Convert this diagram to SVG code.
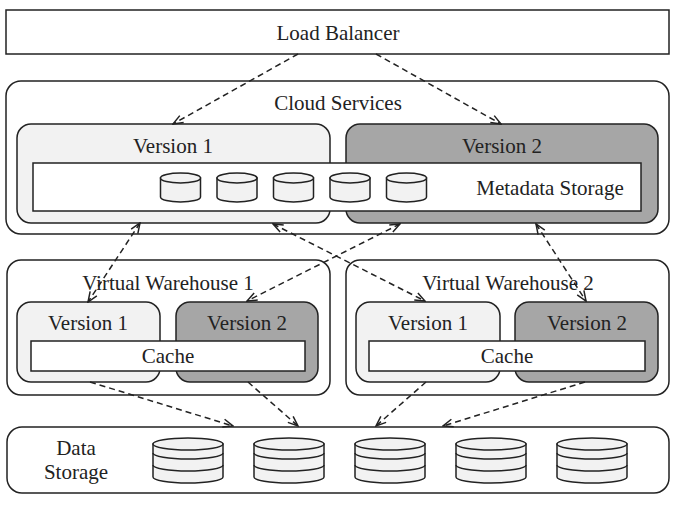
<svg xmlns="http://www.w3.org/2000/svg" width="686" height="510" viewBox="0 0 686 510">
<style>
  .box { fill: #ffffff; stroke: #222222; stroke-width: 1.5; }
  .light { fill: #f2f2f2; stroke: #222222; stroke-width: 1.5; }
  .dark { fill: #a6a6a6; stroke: #222222; stroke-width: 1.5; }
  .cyl { fill: #f2f2f2; stroke: #222222; stroke-width: 1.5; }
  .cline { fill: none; stroke: #222222; stroke-width: 1.5; }
  text { font-family: "Liberation Serif", "Times New Roman", serif; font-size: 21px; fill: #222222; text-anchor: middle; }
  .conn { fill: none; stroke: #222222; stroke-width: 1.5; stroke-dasharray: 6 4; }
</style>
<defs>
  <marker id="arr" viewBox="0 0 12 10" refX="11" refY="5" markerWidth="12" markerHeight="10" markerUnits="userSpaceOnUse" orient="auto-start-reverse">
    <path d="M1,1 L11,5 L1,9" fill="none" stroke="#222222" stroke-width="1.5"/>
  </marker>
  <g id="smallcyl">
    <path class="cyl" d="M-20,0 L-20,19 A20,5 0 0 0 20,19 L20,0 Z"/>
    <ellipse class="cyl" cx="0" cy="0" rx="20" ry="5"/>
  </g>
  <g id="bigcyl">
    <path class="cyl" d="M-35,0 L-35,33 A35,6 0 0 0 35,33 L35,0 Z"/>
    <ellipse class="cyl" cx="0" cy="0" rx="35" ry="6"/>
    <path class="cline" d="M-35,9 A35,6 0 0 0 35,9"/>
    <path class="cline" d="M-35,21 A35,6 0 0 0 35,21"/>
  </g>
</defs>

<g id="load-balancer">
  <rect class="box" x="6" y="10" width="663" height="44"/>
  <text x="338" y="40">Load Balancer</text>
</g>

<g id="cloud-services">
  <rect class="box" x="6" y="81" width="663" height="153" rx="15"/>
  <text x="338" y="110">Cloud Services</text>
</g>
<g id="cloud-version-1">
  <rect class="light" x="17" y="124" width="313" height="99" rx="14"/>
  <text x="173" y="153">Version 1</text>
</g>
<g id="cloud-version-2">
  <rect class="dark" x="346" y="124" width="312" height="99" rx="14"/>
  <text x="502" y="153">Version 2</text>
</g>
<g id="metadata-storage">
  <rect class="box" x="33" y="163" width="608" height="48"/>
  <use href="#smallcyl" x="180.5" y="178"/>
  <use href="#smallcyl" x="237" y="178"/>
  <use href="#smallcyl" x="293.5" y="178"/>
  <use href="#smallcyl" x="350" y="178"/>
  <use href="#smallcyl" x="406.5" y="178"/>
  <text x="550" y="195">Metadata Storage</text>
</g>

<g id="virtual-warehouse-1">
  <rect class="box" x="7" y="260" width="323" height="135" rx="14"/>
  <text x="168" y="290">Virtual Warehouse 1</text>
</g>
<g id="vw1-version-1">
  <rect class="light" x="17" y="302" width="143" height="80" rx="14"/>
  <text x="88" y="330">Version 1</text>
</g>
<g id="vw1-version-2">
  <rect class="dark" x="176" y="302" width="142" height="80" rx="14"/>
  <text x="247" y="330">Version 2</text>
</g>
<g id="vw1-cache">
  <rect class="box" x="31" y="341" width="274" height="30"/>
  <text x="168" y="363">Cache</text>
</g>

<g id="virtual-warehouse-2">
  <rect class="box" x="346" y="260" width="323" height="135" rx="14"/>
  <text x="508" y="290">Virtual Warehouse 2</text>
</g>
<g id="vw2-version-1">
  <rect class="light" x="356" y="302" width="144" height="80" rx="14"/>
  <text x="428" y="330">Version 1</text>
</g>
<g id="vw2-version-2">
  <rect class="dark" x="515" y="302" width="143" height="80" rx="14"/>
  <text x="587" y="330">Version 2</text>
</g>
<g id="vw2-cache">
  <rect class="box" x="369" y="341" width="276" height="30"/>
  <text x="507" y="363">Cache</text>
</g>

<g id="data-storage">
  <rect class="box" x="7" y="427" width="662" height="66" rx="15"/>
  <text x="76" y="455">Data</text>
  <text x="76" y="479">Storage</text>
  <use href="#bigcyl" x="188" y="444"/>
  <use href="#bigcyl" x="289" y="444"/>
  <use href="#bigcyl" x="390" y="444"/>
  <use href="#bigcyl" x="491" y="444"/>
  <use href="#bigcyl" x="592" y="444"/>
</g>

<g id="connectors">
  <line class="conn" x1="298" y1="54" x2="173" y2="124" marker-end="url(#arr)"/>
  <line class="conn" x1="376" y1="54" x2="501" y2="124" marker-end="url(#arr)"/>
  <line class="conn" x1="140" y1="223" x2="88" y2="302" marker-start="url(#arr)" marker-end="url(#arr)"/>
  <line class="conn" x1="273" y1="224" x2="425" y2="301" marker-start="url(#arr)" marker-end="url(#arr)"/>
  <line class="conn" x1="400" y1="224" x2="247" y2="301" marker-start="url(#arr)" marker-end="url(#arr)"/>
  <line class="conn" x1="536" y1="224" x2="586" y2="301" marker-start="url(#arr)" marker-end="url(#arr)"/>
  <line class="conn" x1="90" y1="382" x2="233" y2="426" marker-end="url(#arr)"/>
  <line class="conn" x1="248" y1="382" x2="298" y2="426" marker-end="url(#arr)"/>
  <line class="conn" x1="426" y1="382" x2="376" y2="426" marker-end="url(#arr)"/>
  <line class="conn" x1="585" y1="382" x2="443" y2="426" marker-end="url(#arr)"/>
</g>
</svg>
